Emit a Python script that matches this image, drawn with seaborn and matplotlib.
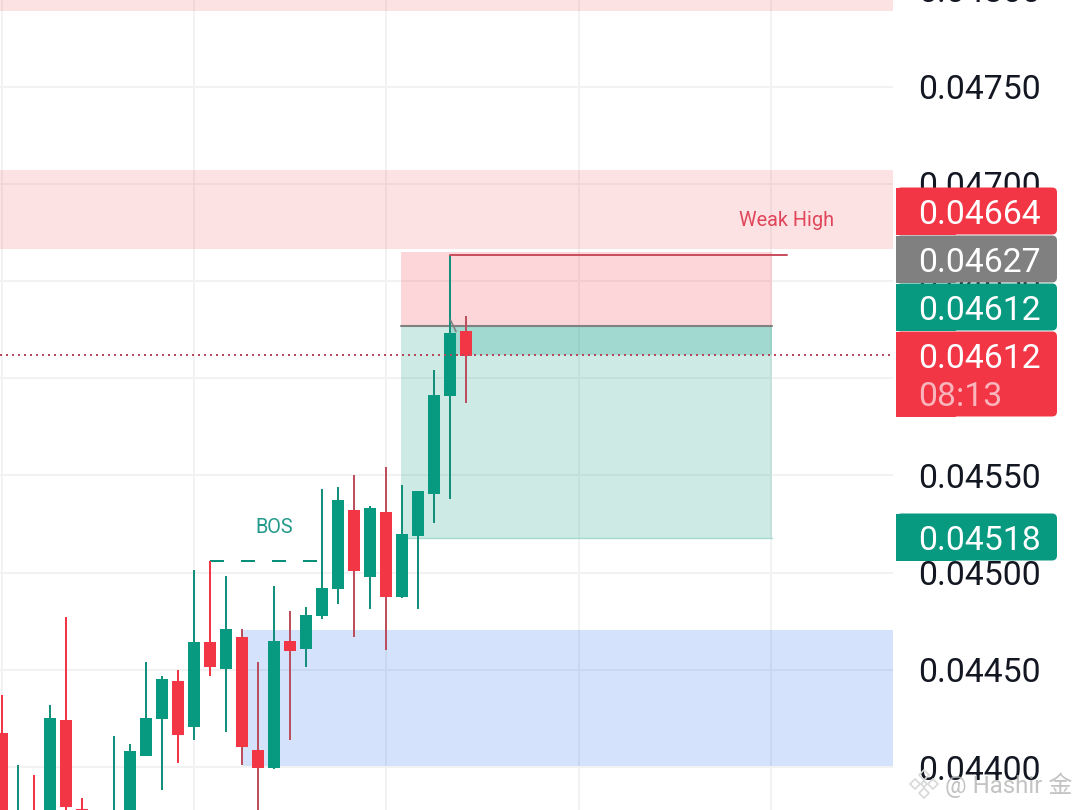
import numpy as np
import pandas as pd
import matplotlib
matplotlib.use("Agg")
import matplotlib.pyplot as plt
from matplotlib.patches import FancyBboxPatch, Rectangle, Polygon
import seaborn as sns

# candle prices, oldest first
opens = [0.044175, 0.043624, 0.043700, 0.043727, 0.044242, 0.043784, 0.043624, 0.043700,
         0.043676, 0.044057, 0.044247, 0.044442, 0.044206, 0.044643, 0.044504, 0.044669,
         0.044087, 0.043995, 0.044648, 0.044607, 0.044777, 0.044916, 0.045322, 0.044977,
         0.045312, 0.044874, 0.045188, 0.045404, 0.045908, 0.046243]
highs = [0.044370, 0.044010, 0.043959, 0.044319, 0.044772, 0.043841, 0.043624, 0.044159,
         0.044118, 0.044540, 0.044468, 0.044499, 0.045013, 0.045060, 0.044983, 0.044710,
         0.044540, 0.044931, 0.044802, 0.044823, 0.045430, 0.045440, 0.045502, 0.045343,
         0.045543, 0.045451, 0.045420, 0.046042, 0.046634, 0.046320]
lows = [0.043676, 0.043600, 0.043600, 0.043600, 0.043753, 0.043600, 0.043600, 0.043600,
        0.043600, 0.044057, 0.043882, 0.044021, 0.044139, 0.044468, 0.044180, 0.044010,
        0.043676, 0.043990, 0.044139, 0.044514, 0.044761, 0.044838, 0.044669, 0.044813,
        0.044602, 0.044869, 0.044813, 0.045255, 0.045379, 0.045872]
closes = [0.043676, 0.043727, 0.043620, 0.044252, 0.043794, 0.043700, 0.043600, 0.043727,
          0.044082, 0.044252, 0.044453, 0.044165, 0.044643, 0.044514, 0.044710, 0.044103,
          0.043995, 0.044648, 0.044597, 0.044782, 0.044921, 0.045373, 0.045008, 0.045332,
          0.044874, 0.045199, 0.045420, 0.045914, 0.046233, 0.046114]

price_ticks = [0.04400, 0.04450, 0.04500, 0.04550, 0.04600, 0.04650, 0.04700, 0.04750, 0.04800]
time_ticks = [0, 12, 24, 36, 48]

target_price = 0.04665
entry_price = 0.04627
stop_price = 0.04518
last_price = 0.04612

tag_texts = ["0.04664", "0.04627", "0.04612", "0.04612", "0.04518"]
tag_colors = ["#F23645", "#808080", "#089981", "#F23645", "#089981"]

GREEN = "#089981"
RED = "#F23645"

sns.set_theme(style="white")
plt.rcParams["font.family"] = ["Roboto", "Noto Sans CJK SC", "DejaVu Sans"]

# long format: every candle gives one wick and one body segment
rows = []
for i, (o, h, l, c) in enumerate(zip(opens, highs, lows, closes)):
    side = "up" if c >= o else "down"
    # later red wicks look duller in the screenshot
    wick = side if (side == "up" or i < 15) else "down_dull"
    rows += [(i, h, wick, "wick"), (i, l, wick, "wick"),
             (i, o, side, "body"), (i, c, side, "body")]
df = pd.DataFrame(rows, columns=["i", "price", "side", "part"])

fig = plt.figure(figsize=(10.8, 8.1), dpi=100)
# the axes run past the top edge so the 0.04800 label gets cut like the original
ax = fig.add_axes([0, 0, 893 / 1080, 850 / 810])
ax.set_xlim(-0.094, 55.61)
ax.set_ylim(0.043779, 0.048151)

ax.set_yticks(price_ticks)
ax.set_yticklabels([f"{p:.5f}" for p in price_ticks], fontsize=24.3, color="#131722")
ax.yaxis.tick_right()
ax.set_xticks(time_ticks)
ax.set_xticklabels([])
ax.tick_params(axis="both", length=0)
ax.tick_params(axis="y", pad=18)
ax.grid(True, color="#F2F2F2", linewidth=1.4, zorder=0)
ax.set_axisbelow(True)
sns.despine(ax=ax, left=True, bottom=True, right=True, top=True)

# zones
ax.axhspan(0.047889, 0.0482, color=RED, alpha=0.14, lw=0)
ax.axhspan(0.046665, 0.047071, color=RED, alpha=0.14, lw=0)
ax.axhspan(0.044005, 0.044705, xmin=15.17 / 55.7, color="#2D6EF0", alpha=0.2, lw=0)

# long position box
ax.add_patch(Rectangle((24.92, entry_price), 23.14, target_price - entry_price,
                       color=RED, alpha=0.2, lw=0))
ax.add_patch(Rectangle((24.92, stop_price), 23.14, entry_price - stop_price,
                       color=GREEN, alpha=0.2, lw=0))
ax.add_patch(Rectangle((28, last_price), 20.06, entry_price - last_price,
                       color=GREEN, alpha=0.22, lw=0))
ax.plot([24.92, 48.06], [entry_price, entry_price], color="#808080", lw=1.5)
ax.plot([24.92, 48.06], [stop_price, stop_price], color="#A5DAD0", lw=1)

# candles
wick_palette = {"up": "#148F7C", "down": RED, "down_dull": "#BC4F5E"}
body_palette = {"up": GREEN, "down": RED}
sns.lineplot(data=df[df.part == "wick"], x="i", y="price", hue="side", units="i", estimator=None,
             palette=wick_palette, linewidth=1.44, solid_capstyle="butt", legend=False, sort=False,
             zorder=3, ax=ax)
sns.lineplot(data=df[df.part == "body"], x="i", y="price", hue="side", units="i", estimator=None,
             palette=body_palette, linewidth=8.64, solid_capstyle="butt", legend=False, sort=False,
             zorder=4, ax=ax)
ax.set_xlabel("")
ax.set_ylabel("")

# annotations on the chart
ax.axhline(last_price, color="#B5485A", lw=1.44, ls=(0, (1, 2)), zorder=5)
ax.plot([28, 49], [0.046634, 0.046634], color="#C8505F", lw=1.44, zorder=5)
ax.plot([13, 19.65], [0.04506, 0.04506], color="#0A8F7B", lw=1.44, ls=(0, (7, 8.5)), zorder=2)
ax.plot([28, 28.35], [0.04630, 0.04624], color="#808080", lw=1.2, zorder=3)
ax.text(49, 0.04681, "Weak High", color="#E0455A", fontsize=14.3, ha="center", va="center")
ax.text(17, 0.04523, "BOS", color="#22998A", fontsize=14.3, ha="center", va="center")

# overlay in pixels for the price tags and the watermark
over = fig.add_axes([0, 0, 1, 1])
over.set_xlim(0, 1080)
over.set_ylim(810, 0)
over.set_axis_off()
over.patch.set_alpha(0)

tag_boxes = [(187, 48), (235, 48), (283, 48), (331, 86), (513, 48)]
tag_text_y = [214.5, 262.5, 310.5, 358.5, 540.5]
for (top, height), color, label, ty in zip(tag_boxes, tag_colors, tag_texts, tag_text_y):
    over.add_patch(FancyBboxPatch((896, top + 0.5), 161, height - 1,
                                  boxstyle="round,pad=0,rounding_size=5", fc=color, ec="none"))
    over.add_patch(Rectangle((896, top + 0.5), 60, height - 1, fc=color, ec="none"))
    over.text(918.5, ty, label, color="white", fontsize=24.3, ha="left", va="center")
over.text(918.5, 397.5, "08:13", color="#F9B4BC", fontsize=24.3, ha="left", va="center")

# watermark
over.text(945, 785, "@ Hashir 金", color="#B4B4B4", fontsize=17.3, alpha=0.8, ha="left", va="center")
for cx, cy, r in [(924, 775, 5), (915, 784, 5), (933, 784, 5), (924, 793, 5), (924, 784, 3)]:
    over.add_patch(Polygon([(cx - r, cy), (cx, cy - r), (cx + r, cy), (cx, cy + r)],
                           closed=True, fc="none", ec="#D8D8D8", lw=1.2))

fig.savefig("out.png", dpi=100)
